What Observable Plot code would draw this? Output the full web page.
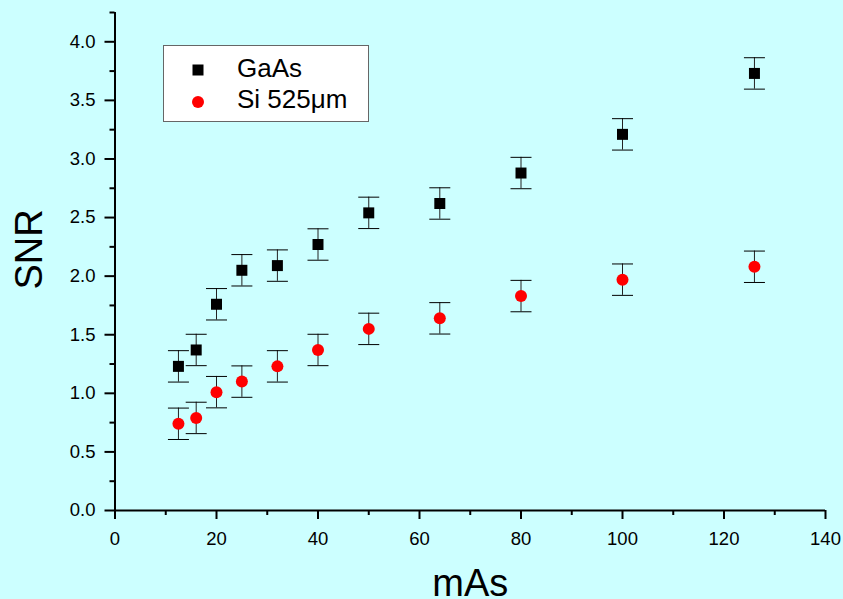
<!DOCTYPE html>
<html>
<head>
<meta charset="utf-8">
<script src="https://cdn.jsdelivr.net/npm/d3@7"></script>
<script src="https://cdn.jsdelivr.net/npm/@observablehq/plot@0.6"></script>
<style>
  html, body { margin: 0; padding: 0; background: #CCFFFF; }
  #wrap { position: relative; width: 843px; height: 599px; font-family: "Liberation Sans", Arial, sans-serif; }
  #legend { position: absolute; left: 163px; top: 45px; width: 206px; height: 77px; background: #fff; border: 1px solid #666; box-sizing: border-box; }
  #legend .sym { position: absolute; }
  #legend .lab { position: absolute; font-size: 26px; line-height: 26px; color: #000; white-space: nowrap; }
</style>
</head>
<body>
<div id="wrap"></div>
<script>
// ---- data ----
const mAs = [12.5, 16, 20, 25, 32, 40, 50, 64, 80, 100, 126];
const gaasSNR = [1.23, 1.37, 1.76, 2.05, 2.09, 2.27, 2.54, 2.62, 2.88, 3.21, 3.73];
const gaasErr = [0.134, 0.134, 0.134, 0.134, 0.134, 0.134, 0.134, 0.134, 0.134, 0.134, 0.134];
const siSNR = [0.74, 0.79, 1.01, 1.10, 1.23, 1.37, 1.55, 1.64, 1.83, 1.97, 2.08];
const siErr = [0.134, 0.134, 0.134, 0.134, 0.134, 0.134, 0.134, 0.134, 0.134, 0.134, 0.134];
const seriesNames = ["GaAs", "Si 525\u03BCm"];
const xTicks = [0, 20, 40, 60, 80, 100, 120, 140];
const xMinorTicks = [10, 30, 50, 70, 90, 110, 130];
const yTicks = [0, 0.5, 1.0, 1.5, 2.0, 2.5, 3.0, 3.5, 4.0];
const yMinorTicks = [0.25, 0.75, 1.25, 1.75, 2.25, 2.75, 3.25, 3.75, 4.25];
const xLabel = "mAs";
const yLabel = "SNR";

const gaas = mAs.map((x, i) => ({x, y: gaasSNR[i], e: gaasErr[i]}));
const si = mAs.map((x, i) => ({x, y: siSNR[i], e: siErr[i]}));

const capHalf = 10.5; // px
const hline = {
  draw(ctx, size) {
    const w = Math.sqrt(size / Math.PI);
    ctx.moveTo(-w, 0);
    ctx.lineTo(w, 0);
  }
};

function errMarks(data) {
  return [
    Plot.ruleX(data, {x: "x", y1: d => d.y - d.e, y2: d => d.y + d.e, stroke: "#222", strokeWidth: 1}),
    Plot.dot(data, {x: "x", y: d => d.y - d.e, symbol: hline, r: capHalf, stroke: "#000", fill: "none", strokeWidth: 1}),
    Plot.dot(data, {x: "x", y: d => d.y + d.e, symbol: hline, r: capHalf, stroke: "#000", fill: "none", strokeWidth: 1})
  ];
}

const fmtY = d3.format(".1f");

const chart = Plot.plot({
  width: 843,
  height: 599,
  marginLeft: 114.5,
  marginRight: 18,
  marginTop: 12,
  marginBottom: 89,
  style: {background: "#CCFFFF", color: "#000", fontFamily: "'Liberation Sans', Arial, sans-serif", fontSize: "18.5px"},
  x: {domain: [0, 140]},
  y: {domain: [0, 4.25]},
  marks: [
    Plot.axisX({ticks: xTicks, tickSize: 9, strokeWidth: 2, text: null, label: null}),
    Plot.axisX({ticks: xMinorTicks, tickSize: 5, strokeWidth: 2, text: null, label: null}),
    Plot.axisY({ticks: yTicks, tickSize: 10, strokeWidth: 2, text: null, label: null}),
    Plot.axisY({ticks: yMinorTicks, tickSize: 5, strokeWidth: 2, text: null, label: null}),
    Plot.text(xTicks, {x: d => d, frameAnchor: "bottom", text: d => String(d), dy: 21, lineAnchor: "top", textAnchor: "middle", fontSize: 18.5, fill: "#000"}),
    Plot.text(yTicks, {y: d => d, frameAnchor: "left", text: d => fmtY(d), dx: -19.5, lineAnchor: "middle", textAnchor: "end", fontSize: 18.5, fill: "#000"}),
    Plot.ruleY([0], {strokeWidth: 2}),
    Plot.ruleX([0], {strokeWidth: 2}),
    ...errMarks(gaas),
    ...errMarks(si),
    Plot.dot(gaas, {x: "x", y: "y", symbol: "square", r: 6.2, fill: "#000", stroke: "none"}),
    Plot.dot(si, {x: "x", y: "y", symbol: "circle", r: 6, fill: "#FF0000", stroke: "none"}),
    Plot.text([xLabel], {frameAnchor: "bottom", text: d => d, dy: 85, lineAnchor: "bottom", fontSize: 38, fill: "#000"}),
    Plot.text([yLabel], {frameAnchor: "left", text: d => d, dx: -85.5, dy: 28, rotate: -90, lineAnchor: "middle", fontSize: 38, fill: "#000"})
  ]
});

const wrap = document.getElementById("wrap");
wrap.appendChild(chart);

// legend
const legend = document.createElement("div");
legend.id = "legend";
legend.innerHTML = `
  <svg class="sym" style="left:28px;top:17.5px" width="12" height="12"><rect x="0.5" y="0.5" width="11" height="11" fill="#000"/></svg>
  <span class="lab" style="left:73px;top:8.7px">${seriesNames[0]}</span>
  <svg class="sym" style="left:27.7px;top:50.3px" width="12" height="12"><circle cx="6" cy="6" r="6" fill="#FF0000"/></svg>
  <span class="lab" style="left:73px;top:40.3px">${seriesNames[1]}</span>
`;
wrap.appendChild(legend);
</script>
</body>
</html>
